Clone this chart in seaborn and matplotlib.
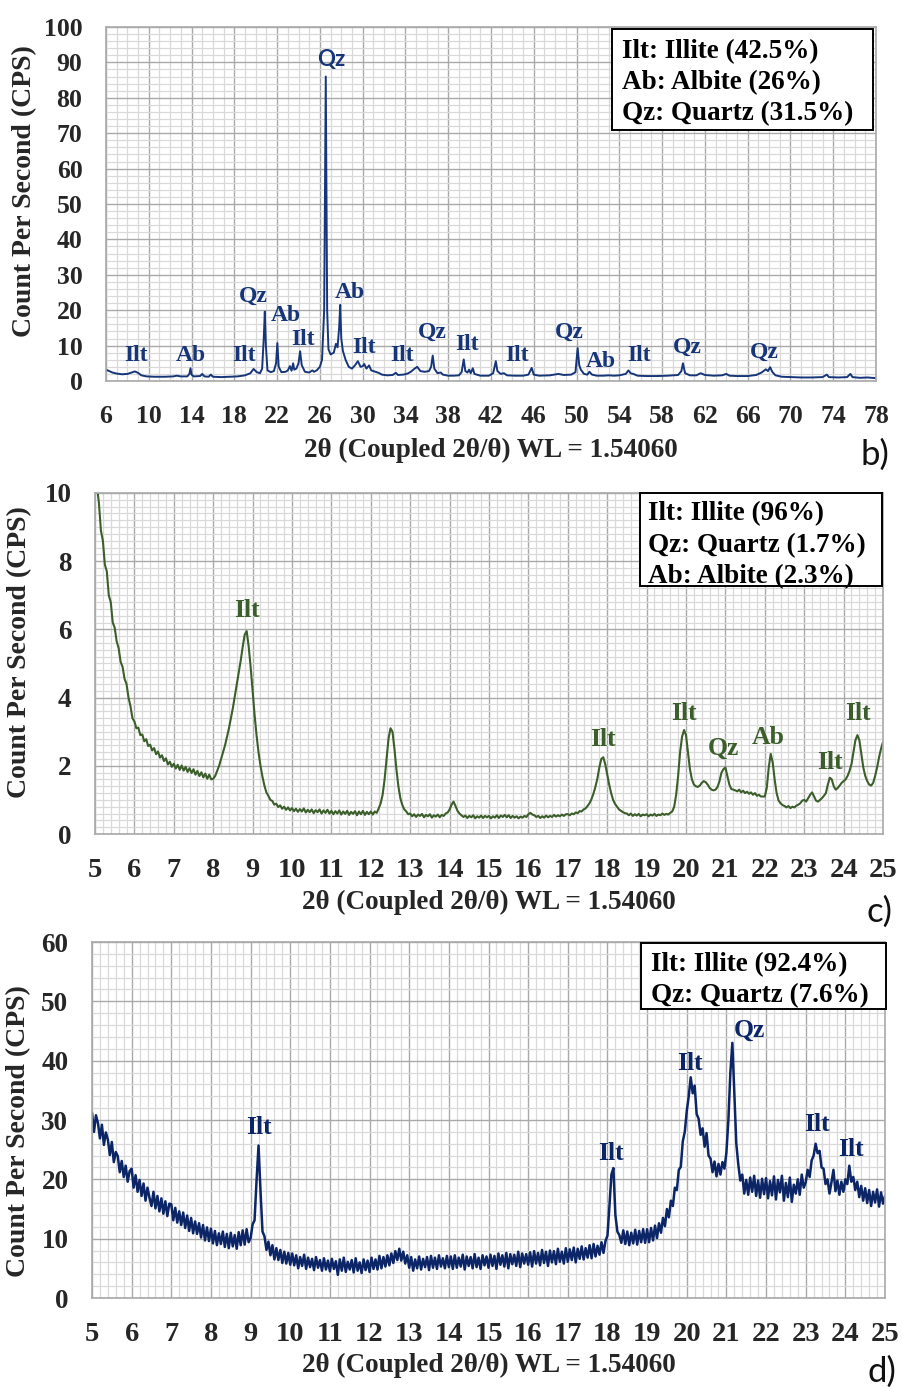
import numpy as np
import matplotlib
matplotlib.use("Agg")
import matplotlib.pyplot as plt
import seaborn as sns
from matplotlib.ticker import MultipleLocator, FixedLocator
from matplotlib.patches import Rectangle

# ---------------- data: panel b (6-78 deg) ----------------
two_theta_b = [6.0, 6.3, 6.6, 7.0, 7.5, 8.0, 8.4, 8.7, 9.0, 9.3, 9.8, 10.5, 11.5, 12.3, 12.6, 13.0,
               13.6, 13.8, 13.9, 14.0, 14.2, 14.8, 15.0, 15.2, 15.6, 15.8, 16.0, 16.8, 17.5, 18.3,
               19.0, 19.5, 19.8, 20.1, 20.4, 20.6, 20.75, 20.85, 20.95, 21.1, 21.4, 21.7, 21.9, 22.02,
               22.15, 22.4, 22.8, 23.0, 23.2, 23.35, 23.5, 23.6, 23.8, 24.0, 24.15, 24.3, 24.6, 25.0,
               25.3, 25.45, 25.7, 26.0, 26.2, 26.4, 26.55, 26.68, 26.8, 27.0, 27.3, 27.5, 27.65, 27.8,
               27.9, 28.0, 28.15, 28.4, 28.7, 29.0, 29.3, 29.55, 29.8, 30.0, 30.15, 30.35, 30.6, 30.8,
               31.2, 31.5, 31.8, 32.3, 32.8, 33.1, 33.3, 33.8, 34.2, 34.5, 34.9, 35.1, 35.4, 35.8,
               36.2, 36.4, 36.55, 36.7, 37.0, 37.3, 37.5, 38.0, 38.5, 39.0, 39.25, 39.45, 39.6, 39.8,
               39.95, 40.1, 40.3, 40.45, 41.0, 41.8, 42.2, 42.45, 42.6, 42.9, 43.2, 43.5, 44.2, 45.0,
               45.5, 45.8, 46.0, 46.5, 47.5, 48.3, 48.8, 49.5, 49.9, 50.1, 50.25, 50.4, 50.7, 51.0,
               51.2, 51.45, 51.9, 52.5, 53.0, 53.5, 54.0, 54.6, 54.85, 55.05, 55.3, 55.7, 56.5, 57.5,
               58.5, 59.5, 59.8, 59.95, 60.15, 60.6, 61.2, 61.6, 62.0, 62.8, 63.6, 64.0, 64.3, 65.0,
               66.0, 66.8, 67.3, 67.7, 67.9, 68.1, 68.3, 68.6, 69.2, 70.0, 71.0, 72.0, 73.0, 73.4,
               73.6, 74.5, 75.3, 75.6, 75.8, 76.5, 77.2, 78.0]
cps_b = [3.2, 2.8, 2.4, 2.1, 1.9, 2.0, 2.4, 2.7, 2.3, 1.6, 1.3, 1.2, 1.2, 1.3, 1.5, 1.3,
         1.3, 2.0, 3.6, 1.8, 1.3, 1.4, 2.0, 1.3, 1.2, 1.8, 1.2, 1.1, 1.2, 1.3,
         1.6, 2.2, 3.4, 2.5, 2.2, 3.5, 12.0, 19.6, 10.0, 3.0, 2.5, 2.8, 5.0, 10.7,
         4.0, 2.5, 2.6, 3.0, 4.2, 2.9, 5.0, 3.2, 3.5, 5.0, 8.4, 4.5, 2.6, 2.4,
         3.0, 2.6, 3.0, 4.0, 6.0, 20.0, 86.0, 20.0, 9.0, 7.5, 8.0, 10.5, 9.5, 15.0,
         21.5, 12.0, 8.5, 6.0, 4.0, 3.5, 4.5, 5.6, 4.0, 4.2, 4.8, 3.5, 4.4, 3.0,
         2.6, 2.3, 1.8, 1.6, 1.7, 2.3, 1.7, 1.8, 2.1, 2.6, 3.6, 4.0, 2.8, 2.6,
         2.8, 4.0, 7.2, 3.5, 2.2, 2.4, 1.8, 1.5, 1.5, 1.6, 2.5, 6.1, 2.8, 2.4,
         3.2, 2.2, 3.6, 2.0, 1.5, 1.5, 2.2, 5.6, 2.8, 2.0, 2.2, 1.6, 1.5, 1.5,
         1.8, 3.7, 1.8, 1.5, 1.6, 2.0, 1.7, 1.8, 2.5, 9.3, 4.5, 3.2, 2.0, 1.8,
         2.6, 1.8, 1.5, 1.5, 1.6, 1.5, 1.6, 2.0, 3.0, 2.2, 2.0, 1.5, 1.4, 1.4,
         1.5, 1.7, 2.8, 5.0, 2.2, 1.6, 1.6, 2.2, 1.7, 1.5, 1.6, 2.0, 1.5, 1.4,
         1.4, 1.7, 2.4, 3.3, 2.8, 3.9, 2.6, 1.6, 1.2, 1.1, 1.0, 1.0, 1.1, 1.8,
         1.1, 1.0, 1.1, 2.0, 1.1, 0.9, 1.0, 0.8]
ticks_b = [6, 10, 14, 18, 22, 26, 30, 34, 38, 42, 46, 50, 54, 58, 62, 66, 70, 74, 78]
labels_b = ["Ilt", "Ab", "Ilt", "Qz", "Ab", "Ilt", "Qz", "Ab", "Ilt", "Ilt", "Qz", "Ilt",
            "Ilt", "Qz", "Ab", "Ilt", "Qz", "Qz"]
label_x_b = [8.8, 13.9, 18.9, 19.75, 22.8, 24.4, 27.05, 28.8, 30.1, 33.7, 36.5, 39.8,
             44.4, 49.3, 52.3, 55.8, 60.4, 67.6]
label_y_b = [7.3, 7.3, 7.3, 24.0, 18.6, 11.6, 90.7, 24.9, 9.6, 7.3, 13.8, 10.2,
             7.3, 13.8, 5.6, 7.3, 9.6, 8.2]
legend_b = ["Ilt: Illite (42.5%)", "Ab: Albite (26%)", "Qz: Quartz (31.5%)"]

# ---------------- data: panel c (5-25 deg, step 0.05) ----------------
two_theta_c = np.round(np.arange(5.0, 25.0001, 0.05), 2)
cps_c = [
    11.0, 10.2, 9.7, 8.9, 8.6, 7.9, 7.7, 7.0, 6.8, 6.2, 6.05, 5.65, 5.45, 5.05, 4.9, 4.55, 4.4, 4.0, 3.75, 3.4,
    3.30, 3.10, 3.12, 2.90, 2.92, 2.72, 2.78, 2.58, 2.62, 2.45, 2.52, 2.34, 2.42, 2.24, 2.31, 2.14, 2.22, 2.04, 2.12, 1.97,
    2.06, 1.92, 2.03, 1.88, 2.01, 1.86, 1.97, 1.82, 1.93, 1.79, 1.90, 1.74, 1.85, 1.70, 1.81, 1.66, 1.77, 1.62, 1.74, 1.60,
    1.62, 1.70, 1.85, 2.00, 2.20, 2.40, 2.60, 2.85, 3.10, 3.40, 3.70, 4.05, 4.40, 4.75, 5.10, 5.50, 5.85, 5.95, 5.50, 4.90,
    4.20, 3.50, 2.90, 2.40, 2.00, 1.68, 1.42, 1.22, 1.12, 1.00, 0.97, 0.86, 0.89, 0.79, 0.84, 0.74, 0.80, 0.71, 0.78, 0.69,
    0.76, 0.67, 0.74, 0.65, 0.73, 0.66, 0.75, 0.63, 0.71, 0.64, 0.72, 0.61, 0.70, 0.64, 0.72, 0.60, 0.69, 0.62, 0.71, 0.60,
    0.68, 0.58, 0.67, 0.60, 0.69, 0.57, 0.66, 0.59, 0.68, 0.56, 0.65, 0.59, 0.67, 0.55, 0.66, 0.58, 0.68, 0.56, 0.65, 0.58,
    0.66, 0.57, 0.66, 0.62, 0.75, 0.90, 1.15, 1.60, 2.20, 2.80, 3.10, 3.00, 2.50, 1.90, 1.40, 1.05, 0.85, 0.72, 0.66, 0.58,
    0.60, 0.52, 0.58, 0.50, 0.57, 0.53, 0.59, 0.49, 0.56, 0.52, 0.58, 0.48, 0.55, 0.51, 0.57, 0.49, 0.56, 0.53, 0.60, 0.63,
    0.72, 0.86, 0.95, 0.82, 0.68, 0.60, 0.55, 0.50, 0.54, 0.47, 0.53, 0.49, 0.55, 0.46, 0.52, 0.48, 0.54, 0.47, 0.53, 0.49,
    0.53, 0.46, 0.52, 0.48, 0.55, 0.47, 0.54, 0.50, 0.56, 0.49, 0.55, 0.47, 0.53, 0.48, 0.52, 0.46, 0.51, 0.48, 0.53, 0.50,
    0.58, 0.62, 0.57, 0.55, 0.50, 0.53, 0.47, 0.52, 0.48, 0.54, 0.49, 0.53, 0.50, 0.56, 0.51, 0.55, 0.52, 0.57, 0.53, 0.58,
    0.58, 0.55, 0.60, 0.58, 0.63, 0.61, 0.67, 0.66, 0.72, 0.75, 0.82, 0.90, 1.02, 1.18, 1.38, 1.62, 1.95, 2.20, 2.25, 2.05,
    1.75, 1.45, 1.20, 1.00, 0.88, 0.80, 0.72, 0.68, 0.64, 0.61, 0.60, 0.55, 0.60, 0.53, 0.58, 0.54, 0.59, 0.52, 0.57, 0.55,
    0.58, 0.52, 0.57, 0.54, 0.59, 0.53, 0.57, 0.55, 0.60, 0.56, 0.59, 0.57, 0.62, 0.66, 0.80, 1.15, 1.70, 2.40, 2.85, 3.05,
    2.90, 2.40, 1.90, 1.60, 1.45, 1.40, 1.38, 1.42, 1.50, 1.55, 1.52, 1.45, 1.35, 1.30, 1.28, 1.30, 1.38, 1.55, 1.80, 1.90,
    1.95, 1.70, 1.45, 1.32, 1.30, 1.28, 1.25, 1.30, 1.22, 1.27, 1.20, 1.24, 1.18, 1.22, 1.15, 1.20, 1.12, 1.15, 1.10, 1.10,
    1.10, 1.35, 1.95, 2.35, 2.10, 1.60, 1.20, 0.98, 0.90, 0.85, 0.82, 0.78, 0.82, 0.76, 0.80, 0.78, 0.83, 0.86, 0.90, 0.98,
    1.00, 0.95, 1.05, 1.15, 1.22, 1.10, 0.98, 0.95, 1.00, 1.05, 1.12, 1.20, 1.45, 1.65, 1.60, 1.40, 1.30, 1.35, 1.42, 1.50,
    1.55, 1.60, 1.70, 1.85, 2.05, 2.40, 2.75, 2.90, 2.75, 2.35, 1.95, 1.70, 1.55, 1.45, 1.42, 1.50, 1.70, 1.95, 2.25, 2.50,
    2.70]
labels_c = ["Ilt", "Ilt", "Ilt", "Qz", "Ab", "Ilt", "Ilt"]
label_x_c = [8.86, 17.89, 19.95, 20.96, 22.08, 23.65, 24.37]
label_y_c = [6.54, 2.76, 3.52, 2.52, 2.82, 2.11, 3.52]
legend_c = ["Ilt: Illite (96%)", "Qz: Quartz (1.7%)", "Ab: Albite (2.3%)"]

# ---------------- data: panel d (5-25 deg, step 0.05) ----------------
two_theta_d = np.round(np.arange(5.0, 25.0001, 0.05), 2)
cps_d = [
    31.2, 28.0, 30.8, 29.5, 26.9, 29.2, 25.8, 27.9, 26.7, 24.1, 26.3, 22.9, 24.6, 23.9, 21.2, 23.1, 20.4, 22.3, 19.6, 21.4,
    21.8, 18.6, 20.7, 17.9, 19.9, 17.2, 19.3, 16.4, 18.6, 16.9, 15.5, 17.9, 15.1, 17.2, 14.6, 16.8, 14.2, 16.3, 13.8, 15.9,
    15.8, 13.1, 15.2, 12.7, 14.6, 12.3, 14.4, 11.8, 13.9, 11.3, 13.5, 10.9, 12.9, 10.8, 12.6, 10.2, 12.3, 9.7, 11.9, 9.6,
    11.7, 9.2, 11.3, 8.9, 10.9, 9.1, 11.2, 8.6, 10.8, 8.4, 11.0, 8.7, 10.6, 8.3, 11.1, 8.9, 11.4, 9.0, 11.6, 9.4,
    10.1, 12.4, 13.1, 19.8, 25.7, 18.0, 11.2, 10.4, 8.1, 9.5, 7.2, 8.9, 6.5, 8.4, 6.4, 8.1, 5.9, 7.8, 5.8, 7.6,
    5.6, 7.5, 5.5, 7.2, 5.0, 6.9, 5.4, 7.3, 4.9, 6.8, 5.2, 6.6, 4.7, 6.9, 5.1, 6.4, 4.6, 6.7, 4.8, 6.3,
    4.5, 6.6, 4.9, 6.2, 3.9, 6.5, 4.6, 6.8, 4.4, 6.1, 4.8, 6.4, 4.3, 6.7, 4.6, 6.0, 4.2, 6.5, 4.7, 6.3,
    4.4, 6.8, 4.9, 6.5, 4.8, 7.1, 5.0, 6.9, 5.3, 7.2, 5.5, 7.5, 5.9, 7.9, 6.4, 8.3, 6.3, 7.8, 5.8, 7.2,
    5.1, 6.9, 4.6, 6.5, 5.0, 7.0, 4.8, 6.6, 5.2, 6.9, 4.7, 7.1, 5.1, 6.8, 4.9, 7.2, 5.3, 6.7, 5.0, 7.1,
    5.2, 7.0, 4.9, 7.2, 5.1, 6.8, 5.3, 7.3, 4.8, 7.0, 5.4, 6.9, 5.0, 7.4, 5.2, 6.8, 4.9, 7.2, 5.5, 7.0,
    5.1, 7.3, 5.4, 7.1, 4.9, 7.5, 5.6, 7.2, 5.3, 7.6, 5.0, 7.4, 5.7, 7.3, 5.4, 7.8, 5.2, 7.5, 5.8, 7.4,
    5.6, 7.7, 5.3, 7.9, 5.8, 7.6, 5.5, 8.1, 5.9, 7.8, 5.4, 8.0, 6.0, 7.9, 5.7, 8.3, 6.1, 7.8, 5.8, 8.4,
    6.1, 8.2, 6.4, 8.5, 6.0, 8.3, 6.6, 8.7, 6.5, 8.4, 6.8, 8.9, 6.7, 9.1, 7.0, 8.8, 7.3, 9.4, 7.6, 9.6,
    10.5, 15.5, 20.8, 21.9, 14.0, 11.2, 10.6, 9.3, 11.4, 9.1, 11.2, 8.9, 11.0, 9.2, 11.5, 9.0, 11.3, 9.4, 11.6, 9.3,
    11.6, 9.4, 11.8, 9.7, 12.2, 10.1, 12.6, 11.0, 13.5, 12.1, 15.0, 13.6, 16.4, 15.5, 18.6, 18.2, 21.6, 22.1, 26.4, 28.0,
    31.5, 34.0, 37.2, 34.5, 35.8, 31.0, 30.2, 27.5, 28.6, 25.5, 27.8, 24.0, 23.5, 21.2, 23.0, 20.5, 22.6, 20.8, 22.9, 21.8,
    24.5, 30.0, 38.0, 43.0, 34.5, 26.0, 22.5, 19.8, 20.8, 17.6, 19.9, 17.4, 20.3, 17.9, 20.6, 17.2, 19.8, 16.9, 20.1, 17.5,
    20.2, 16.8, 19.7, 17.3, 20.5, 16.6, 19.9, 17.8, 20.6, 16.4, 19.4, 17.0, 20.3, 16.2, 19.1, 17.6, 20.0, 17.4, 20.8, 18.6,
    19.5, 21.6, 20.4, 23.2, 24.0, 26.0, 24.4, 24.8, 22.0, 21.8, 19.2, 20.0, 17.6, 19.5, 21.6, 18.0, 19.8, 17.4, 19.6, 17.9,
    20.0, 19.2, 22.3, 19.6, 20.4, 18.2, 19.6, 17.0, 18.9, 16.4, 18.5, 16.0, 18.2, 15.5, 17.9, 16.1, 18.3, 15.4, 17.8, 15.9,
    17.2]
labels_d = ["Ilt", "Ilt", "Ilt", "Qz", "Ilt", "Ilt"]
label_x_d = [9.21, 18.09, 20.08, 21.57, 23.29, 24.14]
label_y_d = [28.8, 24.3, 39.5, 45.2, 29.3, 25.0]
legend_d = ["Ilt: Illite (92.4%)", "Qz: Quartz (7.6%)"]

x_title = "2θ (Coupled 2θ/θ) WL = 1.54060"
y_title = "Count Per Second (CPS)"

assert len(two_theta_b) == len(cps_b)
assert len(two_theta_c) == len(cps_c)
assert len(two_theta_d) == len(cps_d)

# ---------------- styling ----------------
sns.set_theme(style="white")
plt.rcParams['font.family'] = ['Liberation Serif', 'DejaVu Serif']
plt.rcParams['font.weight'] = 'bold'
plt.rcParams['axes.labelweight'] = 'bold'

fig = plt.figure(figsize=(9.02, 13.87), dpi=100)

MAJOR_GRID = '#a9a9a9'
MINOR_GRID = '#d9d9d9'


def style_axis(ax, xlim, ylim, xticks, xmin, ymaj, ymin, xtick_fs, ytick_fs, ylab_xy, xlab_y):
    ax.set_xlim(*xlim)
    ax.set_ylim(*ylim)
    ax.xaxis.set_major_locator(FixedLocator(xticks))
    ax.xaxis.set_minor_locator(MultipleLocator(xmin))
    ax.yaxis.set_major_locator(MultipleLocator(ymaj))
    ax.yaxis.set_minor_locator(MultipleLocator(ymin))
    ax.set_axisbelow(True)
    ax.grid(which='minor', color=MINOR_GRID, lw=0.9)
    ax.grid(which='major', color=MAJOR_GRID, lw=1.0)
    ax.tick_params(which='both', length=0, pad=17)
    ax.tick_params(axis='x', labelsize=xtick_fs)
    ax.tick_params(axis='y', labelsize=ytick_fs)
    for lbl in ax.get_xticklabels() + ax.get_yticklabels():
        lbl.set_fontweight('bold')
    for sp in ax.spines.values():
        sp.set_color(MAJOR_GRID)
        sp.set_linewidth(1.2)
    ax.set_xlabel(x_title, fontsize=19.5, fontweight='bold')
    ax.set_ylabel(y_title, fontsize=20, fontweight='bold')
    ax.xaxis.set_label_coords(0.5, xlab_y)
    ax.yaxis.set_label_coords(*ylab_xy)


def legend_box(ax, lines, rect, text_xy, fs=19.5, ls=1.32):
    x0, y0, x1, y1 = rect
    ax.add_patch(Rectangle((x0, y0), x1 - x0, y1 - y0, transform=ax.transAxes,
                           facecolor='white', edgecolor='black', lw=1.4, zorder=5,
                           clip_on=False))
    ax.text(text_xy[0], text_xy[1], "\n".join(lines), transform=ax.transAxes,
            ha='left', va='top', fontsize=fs, fontweight='bold', color='black',
            linespacing=ls, zorder=6)


# ---- panel b ----
col_b = '#17367a'
ax_b = fig.add_axes([106 / 902, 1 - 381 / 1387, 770 / 902, 354 / 1387])
sns.lineplot(x=two_theta_b, y=cps_b, ax=ax_b, color=col_b, lw=1.4, estimator=None, sort=False)
style_axis(ax_b, (6, 78), (0, 100), ticks_b, 1, 10, 2, 18.5, 18.5, (-0.09, 0.537), -0.16)
for t, x, y in zip(labels_b, label_x_b, label_y_b):
    if y > 80:
        ax_b.text(x, y, t, color=col_b, fontsize=16, fontweight='bold', family=['Lato', 'DejaVu Sans'],
                  ha='center', va='center')
    else:
        ax_b.text(x, y, t, color=col_b, fontsize=17, fontweight='bold', ha='center', va='center')
legend_box(ax_b, legend_b, (0.657, 0.709, 0.996, 0.994), (0.670, 0.966))

# ---- panel c ----
col_c = '#3b5e2b'
ax_c = fig.add_axes([95 / 902, 1 - 834 / 1387, 788 / 902, 341 / 1387])
sns.lineplot(x=two_theta_c, y=cps_c, ax=ax_c, color=col_c, lw=1.5, estimator=None, sort=False)
style_axis(ax_c, (5, 25), (0, 10), list(range(5, 26)), 0.2, 2, 0.2, 20.5, 19.5, (-0.08, 0.534), -0.165)
for t, x, y in zip(labels_c, label_x_c, label_y_c):
    ax_c.text(x, y, t, color=col_c, fontsize=18.5, fontweight='bold', ha='center', va='center')
legend_box(ax_c, legend_c, (0.692, 0.727, 0.999, 1.0), (0.702, 0.975))

# ---- panel d ----
col_d = '#0b2566'
ax_d = fig.add_axes([92 / 902, 1 - 1298 / 1387, 793 / 902, 356 / 1387])
sns.lineplot(x=two_theta_d, y=cps_d, ax=ax_d, color=col_d, lw=1.8, estimator=None, sort=False)
style_axis(ax_d, (5, 25), (0, 60), list(range(5, 26)), 0.2, 10, 2, 20.5, 19.5, (-0.077, 0.47), -0.155)
for t, x, y in zip(labels_d, label_x_d, label_y_d):
    ax_d.text(x, y, t, color=col_d, fontsize=18.5, fontweight='bold', ha='center', va='center')
legend_box(ax_d, legend_d, (0.692, 0.812, 1.001, 0.997), (0.705, 0.972))

# panel tags
for tag, px, py in [("b)", 875, 455), ("c)", 880, 912), ("d)", 882, 1372)]:
    fig.text(px / 902, 1 - py / 1387, tag, ha='center', va='center', fontsize=25,
             fontweight='normal', family=['Lato', 'DejaVu Sans'], color='#111111')

fig.savefig("out.png", dpi=100)
